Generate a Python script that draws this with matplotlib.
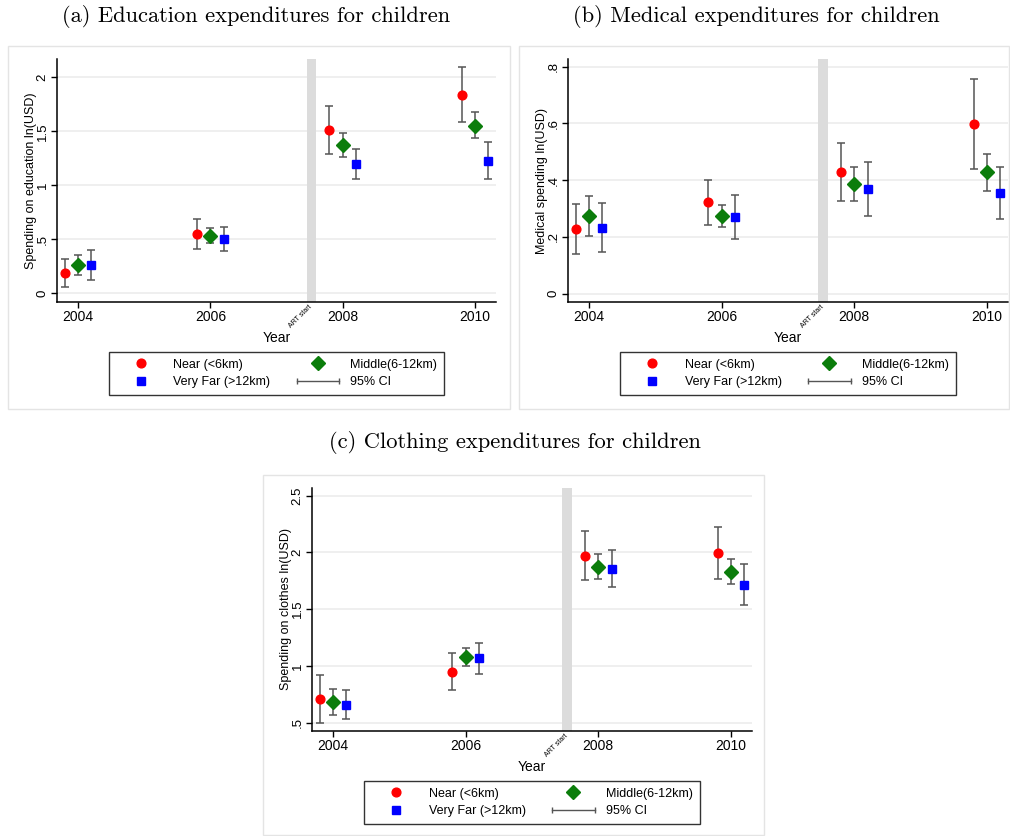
import numpy as np
import matplotlib.pyplot as plt
from matplotlib.lines import Line2D
from matplotlib.patches import Rectangle
from matplotlib.legend_handler import HandlerLine2D

plt.rcParams.update({
    'font.family': 'Liberation Sans',
    'font.size': 9,
    'axes.linewidth': 1.1,
})

years = [2004, 2006, 2008, 2010]
groups = ['Near (<6km)', 'Middle(6-12km)', 'Very Far (>12km)']

# (a) education: point estimates and 95% CI bounds
edu_near = [0.185, 0.55, 1.51, 1.84]
edu_near_lo = [0.056, 0.41, 1.29, 1.59]
edu_near_hi = [0.315, 0.69, 1.73, 2.10]
edu_mid = [0.26, 0.525, 1.37, 1.55]
edu_mid_lo = [0.17, 0.46, 1.26, 1.44]
edu_mid_hi = [0.35, 0.60, 1.48, 1.68]
edu_far = [0.26, 0.50, 1.20, 1.225]
edu_far_lo = [0.12, 0.39, 1.06, 1.06]
edu_far_hi = [0.40, 0.61, 1.34, 1.40]

# (b) medical
med_near = [0.228, 0.322, 0.428, 0.598]
med_near_lo = [0.141, 0.244, 0.327, 0.438]
med_near_hi = [0.315, 0.401, 0.531, 0.758]
med_mid = [0.275, 0.274, 0.386, 0.428]
med_mid_lo = [0.205, 0.235, 0.327, 0.362]
med_mid_hi = [0.346, 0.313, 0.446, 0.494]
med_far = [0.232, 0.271, 0.368, 0.354]
med_far_lo = [0.147, 0.194, 0.275, 0.264]
med_far_hi = [0.319, 0.347, 0.465, 0.445]

# (c) clothing
clo_near = [0.709, 0.948, 1.967, 1.996]
clo_near_lo = [0.50, 0.786, 1.755, 1.767]
clo_near_hi = [0.924, 1.11, 2.185, 2.22]
clo_mid = [0.686, 1.077, 1.876, 1.828]
clo_mid_lo = [0.571, 0.998, 1.765, 1.72]
clo_mid_hi = [0.797, 1.157, 1.988, 1.94]
clo_far = [0.653, 1.066, 1.855, 1.717]
clo_far_lo = [0.53, 0.93, 1.696, 1.534]
clo_far_hi = [0.786, 1.20, 2.02, 1.902]

offsets = [-0.2, 0.0, 0.2]
markers = ['o', 'D', 's']
msizes = [6.3, 6.8, 6.3]
colors = ['#ff0000', '#0b7d0b', '#0000ff']
W, H = 1010, 836


def panel(fig, rect, series, ylim, yticks, yticklabels, ylabel):
    ax = fig.add_axes(rect)
    ax.set_xlim(2003.68, 2010.32)
    ax.set_ylim(*ylim)
    ax.axvspan(2007.46, 2007.6, color='#dcdcdc', lw=0, zorder=1)
    for yt in yticks:
        ax.axhline(yt, color='#ececec', lw=1.2, zorder=0)
    for i, (mean, lo, hi) in enumerate(series):
        x = np.array(years) + offsets[i]
        mean = np.array(mean)
        err = [mean - np.array(lo), np.array(hi) - mean]
        ax.errorbar(x, mean, yerr=err, fmt='none', ecolor='#555555',
                    elinewidth=1.1, capsize=3, capthick=1.1, zorder=2)
        ax.plot(x, mean, linestyle='none', marker=markers[i], ms=msizes[i],
                color=colors[i], zorder=3)
    ax.set_xticks(years)
    ax.set_yticks(yticks)
    ax.set_yticklabels(yticklabels, rotation=90, va='center')
    ax.tick_params(direction='out', length=4, width=1, labelsize=9.5, pad=2)
    ax.tick_params(axis='x', labelsize=10)
    for s in ['top', 'right']:
        ax.spines[s].set_visible(False)
    ax.set_xlabel('Year', fontsize=10, labelpad=5)
    ax.set_ylabel(ylabel, fontsize=9, labelpad=0)
    ax.text(2007.56, -0.005, 'ART start', rotation=45, ha='right', va='top',
            fontsize=5, transform=ax.get_xaxis_transform())

    handles = [
        Line2D([], [], ls='none', marker='o', ms=6.3, color=colors[0]),
        Line2D([], [], ls='none', marker='s', ms=6.3, color=colors[2]),
        Line2D([], [], ls='none', marker='D', ms=6.8, color=colors[1]),
        Line2D([], [], ls='-', marker='|', ms=5, color='#555555', lw=1),
    ]
    labels = [groups[0], groups[2], groups[1], '95% CI']
    leg = ax.legend(handles, labels, ncol=2, loc='upper center',
                    bbox_to_anchor=(0.5, -0.205), borderaxespad=0,
                    frameon=True, fancybox=False,
                    edgecolor='black', fontsize=9, handlelength=4.0,
                    handletextpad=0.6, columnspacing=1.8, borderpad=0.55,
                    labelspacing=0.45,
                    handler_map={handles[3]: HandlerLine2D(numpoints=2)})
    leg.get_frame().set_linewidth(1.0)
    return ax


fig = plt.figure(figsize=(W / 100, H / 100), dpi=100)

# outer panel frames
for (x0, y0, x1, y1) in [(8, 46, 510, 409), (519, 46, 1009, 409), (263, 475, 764, 835)]:
    fig.add_artist(Rectangle((x0 / W, 1 - y1 / H), (x1 - x0) / W, (y1 - y0) / H,
                             transform=fig.transFigure, fill=False,
                             edgecolor='#e4e4e4', lw=1))

panel(fig, [57 / W, 1 - 302 / H, 439 / W, 243 / H],
      [(edu_near, edu_near_lo, edu_near_hi), (edu_mid, edu_mid_lo, edu_mid_hi),
       (edu_far, edu_far_lo, edu_far_hi)],
      (-0.083, 2.17), [0, 0.5, 1, 1.5, 2], ['0', '.5', '1', '1.5', '2'],
      'Spending on education ln(USD)')

panel(fig, [568 / W, 1 - 302 / H, 440 / W, 243 / H],
      [(med_near, med_near_lo, med_near_hi), (med_mid, med_mid_lo, med_mid_hi),
       (med_far, med_far_lo, med_far_hi)],
      (-0.029, 0.827), [0, 0.2, 0.4, 0.6, 0.8], ['0', '.2', '.4', '.6', '.8'],
      'Medical spending ln(USD)')

panel(fig, [312 / W, 1 - 731 / H, 440 / W, 243 / H],
      [(clo_near, clo_near_lo, clo_near_hi), (clo_mid, clo_mid_lo, clo_mid_hi),
       (clo_far, clo_far_lo, clo_far_hi)],
      (0.426, 2.568), [0.5, 1, 1.5, 2, 2.5], ['.5', '1', '1.5', '2', '2.5'],
      'Spending on clothes ln(USD)')

title_kw = dict(fontsize=16.2, family='cmr10', ha='center', va='center')
fig.text(256 / W, 1 - 16 / H, '(a) Education expenditures for children', **title_kw)
fig.text(756 / W, 1 - 16 / H, '(b) Medical expenditures for children', **title_kw)
fig.text(515 / W, 1 - 443 / H, '(c) Clothing expenditures for children', **title_kw)

fig.savefig('out.png', dpi=100, facecolor='white')
